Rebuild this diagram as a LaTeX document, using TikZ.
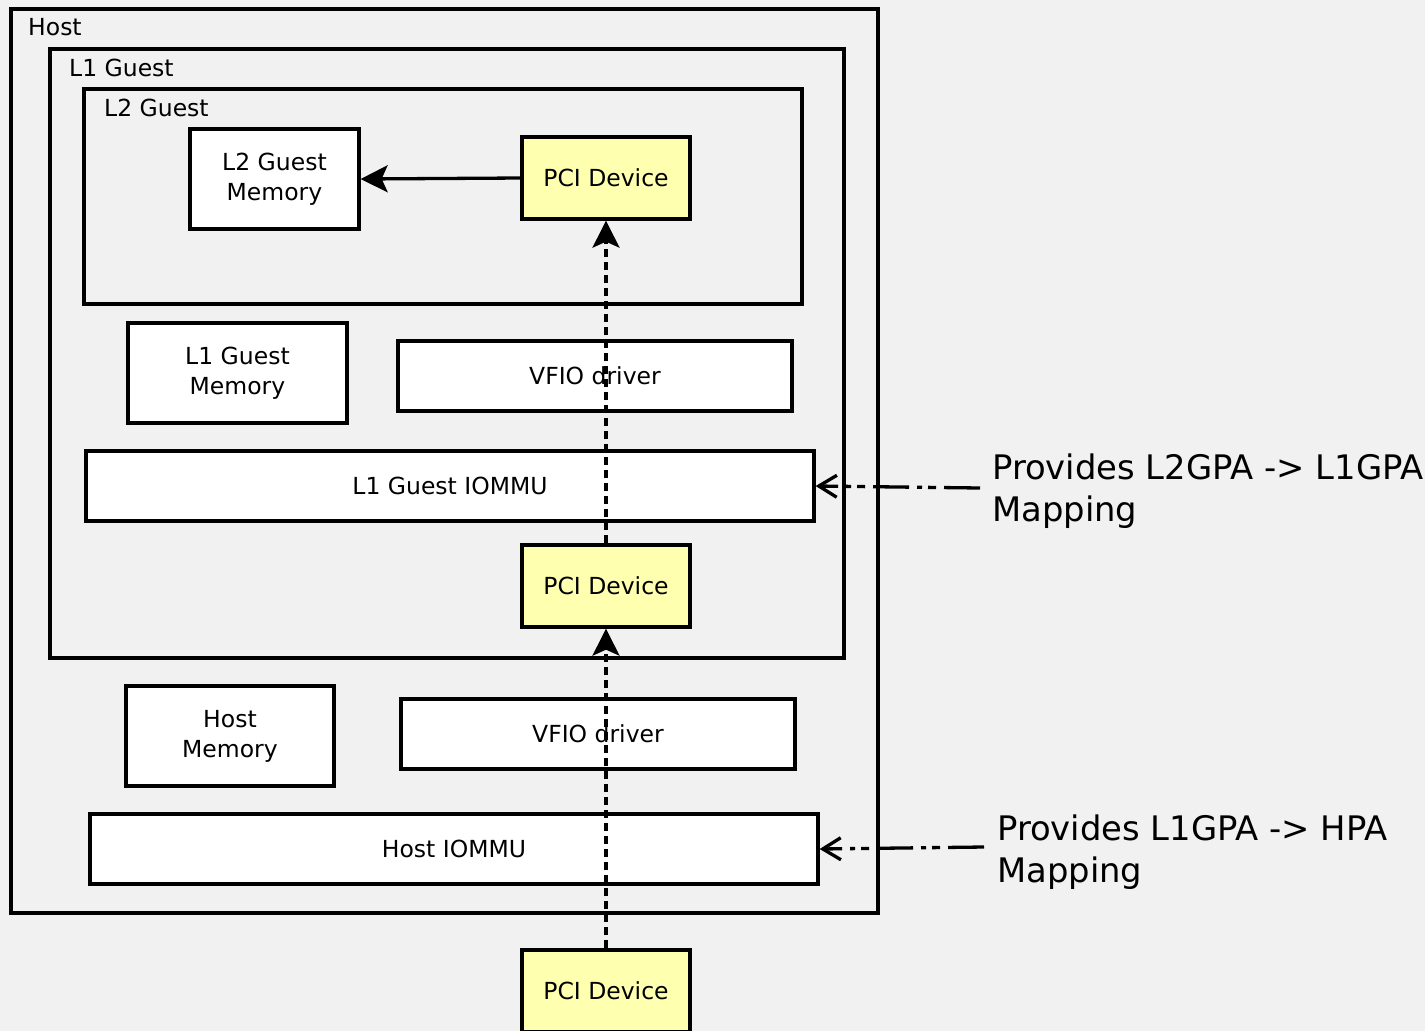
\documentclass[tikz,border=0pt]{standalone}
\usepackage{fontspec}
\setmainfont{DejaVu Sans}
\usetikzlibrary{arrows.meta}
\definecolor{canvas}{HTML}{F1F1F1}
\definecolor{pcifill}{HTML}{FFFFB0}
\begin{document}
\begin{tikzpicture}[x=1pt,y=-1pt,
  frame/.style={draw, line width=3.3pt, rectangle, inner sep=0pt},
  box/.style={frame, fill=white, align=center, font=\fontsize{23.5}{30}\selectfont},
  pci/.style={box, fill=pcifill},
  lbl/.style={anchor=west, inner sep=0pt, font=\fontsize{23.5}{30}\selectfont},
  note/.style={anchor=west, align=left, inner sep=0pt, font=\fontsize{33.8}{42}\selectfont},
  link/.style={line width=3.3pt, -{Stealth[length=27pt,width=27pt,inset=6pt]}},
  busline/.style={link, dash pattern=on 8pt off 5pt},
  mapline/.style={line width=3.3pt, -{Straight Barb[length=18pt,width=22pt]},
    dash pattern=on 36pt off 8pt on 8pt off 6pt on 5pt off 8pt}]
\useasboundingbox (0,0) rectangle (1425,1031);
\clip (0,0) rectangle (1425,1031);
\fill[canvas] (0,0) rectangle (1425,1031);

% nested execution contexts
\node[frame, minimum width=867pt, minimum height=904pt] (host) at (444.5,461) {};
\node[lbl] (hostlbl) at (28,27) {Host};
\node[frame, minimum width=794pt, minimum height=609pt] (l1) at (447,353.5) {};
\node[lbl] (l1lbl) at (69,68) {L1 Guest};
\node[frame, minimum width=718pt, minimum height=215pt] (l2) at (443,196.5) {};
\node[lbl] (l2lbl) at (104,108) {L2 Guest};

% L2 guest
\node[box, minimum width=169pt, minimum height=100pt] (l2mem) at (274.5,179) {L2 Guest\\Memory};
\node[pci, minimum width=168pt, minimum height=82pt] (pci2) at (606,178) {PCI Device};

% L1 guest
\node[box, minimum width=219pt, minimum height=100pt] (l1mem) at (237.5,373) {L1 Guest\\Memory};
\node[box, minimum width=394pt, minimum height=70pt] (vfio1) at (595,376) {VFIO driver};
\node[box, minimum width=728pt, minimum height=70pt] (iommu1) at (450,486) {L1 Guest IOMMU};
\node[pci, minimum width=168pt, minimum height=82pt] (pci1) at (606,586) {PCI Device};

% host
\node[box, minimum width=208pt, minimum height=100pt] (hostmem) at (230,736) {Host\\Memory};
\node[box, minimum width=394pt, minimum height=70pt] (vfio0) at (598,734) {VFIO driver};
\node[box, minimum width=728pt, minimum height=70pt] (iommu0) at (454,849) {Host IOMMU};

% physical device
\node[pci, minimum width=168pt, minimum height=82pt] (pci0) at (606,991) {PCI Device};

% device assignment chain
\draw[busline] (pci0.north) -- (pci1.south);
\draw[busline] (pci1.north) -- (pci2.south);
\draw[link] (pci2.west) -- (l2mem.east);

% address translation notes
\node[note] (note1) at (992,491) {Provides L2GPA -> L1GPA\\Mapping};
\node[note] (note0) at (997,852.5) {Provides L1GPA -> HPA\\Mapping};
\coordinate (m1) at (980,488);
\coordinate (m0) at (984,847);
\draw[mapline] (m1) -- (iommu1.east);
\draw[mapline] (m0) -- (iommu0.east);
\end{tikzpicture}
\end{document}
